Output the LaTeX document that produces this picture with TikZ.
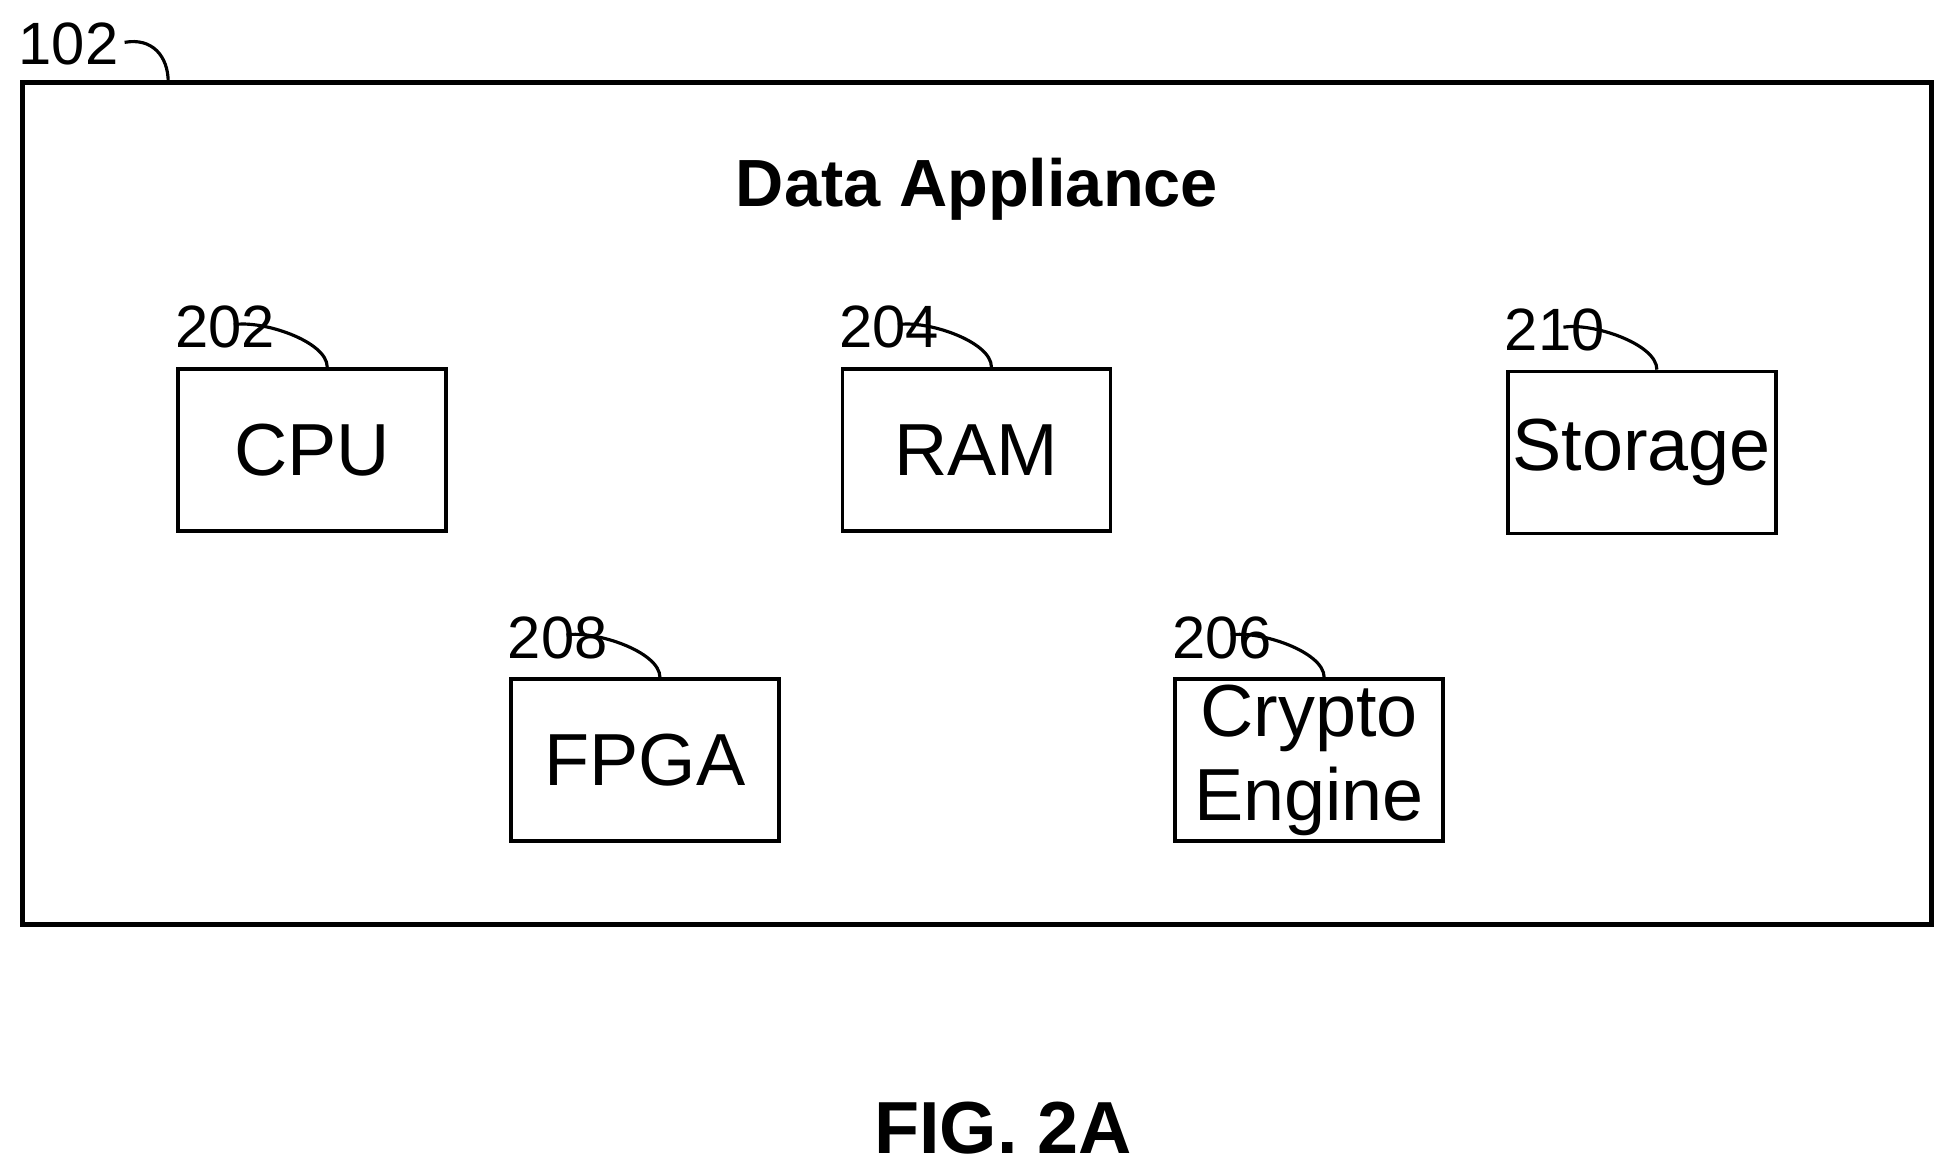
\documentclass[tikz,border=0pt]{standalone}
\usepackage{fontspec}
\setmainfont{Liberation Sans}
\usetikzlibrary{positioning}
\tikzset{
  part/.style={draw, line width=1pt, minimum width=2.68cm, minimum height=1.62cm, inner sep=0pt, font=\fontsize{21}{22}\selectfont, align=center},
  refnum/.style={font=\fontsize{17}{18}\selectfont, inner sep=1pt},
  lead/.style={line width=0.9pt}
}
\begin{document}
\begin{tikzpicture}[x=0.01246cm, y=-0.01246cm]
    \useasboundingbox (0,0) rectangle (1560,937);

    \draw[line width=1.3pt] (18,66) rectangle (1550,742);
    \node[refnum] (n102) at (55,35) {102};
    \draw[lead] (100,34) .. controls (122,30) and (135,45) .. (135,66);

    \node[font=\bfseries\fontsize{19}{20}\selectfont] (title) at (784,152) {Data Appliance};

    \node[part] (cpu) at (250.5,361) {CPU};
    \node[part] (ram) at (783.5,361) {RAM};
    \node[part] (storage) at (1317.5,363) {Storage};
    \node[part] (fpga) at (517.5,610) {FPGA};
    \node[part, font=\fontsize{21}{24}\selectfont] (crypto) at (1050.5,610) {Crypto\\Engine};

    % reference numerals with lead lines
    \foreach \p/\num in {cpu/202, ram/204, storage/210, fpga/208, crypto/206}{
        \node[refnum] (n\num) at ([shift={(39,-32)}]\p.north west) {\num};
        \draw[lead] ([shift={(46,-34)}]\p.north west) .. controls +(22,-4) and +(0,-21) .. ([shift={(121,0)}]\p.north west);
    }

    \node[font=\bfseries\fontsize{21}{22}\selectfont] (fig) at (805,905) {FIG. 2A};
\end{tikzpicture}
\end{document}
